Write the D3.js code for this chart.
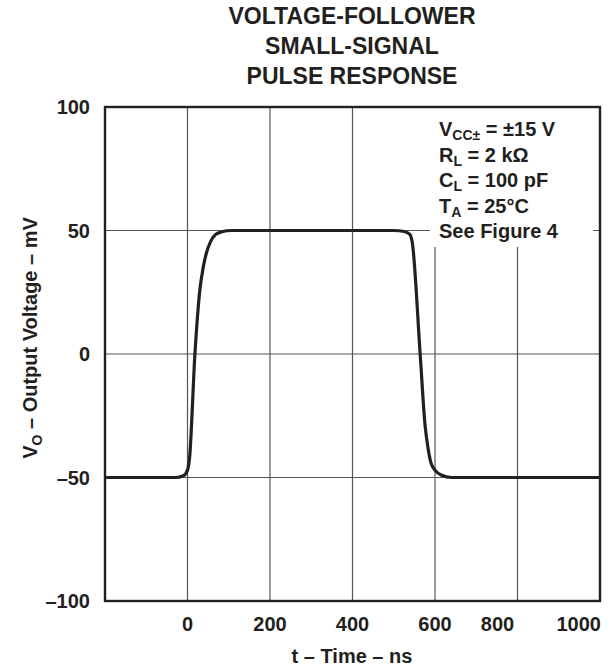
<!DOCTYPE html>
<html><head><meta charset="utf-8">
<script src="https://cdn.jsdelivr.net/npm/d3@7"></script>
<style>
body{margin:0;background:#fff;}
text{font-family:"Liberation Sans",Arial,Helvetica,sans-serif;font-weight:bold;fill:#231f20;}
</style></head>
<body><svg id="c" width="613" height="668"></svg>
<script>
// Data
const timeNs = [-200,-30,-10,0,5,18,30,38,46,56,67,82,95,108,500,525,539,545,564,576,583,590,600,615,640,1000];
const voltageMv = [-50,-50,-49.3,-47,-42,0,26,35,41,45.5,48.2,49.4,49.9,50,50,49.6,48.4,45,0,-29,-38,-44,-47,-49,-50,-50];
const xTicks = [-200,0,200,400,600,800,1000];
const xTickLabels = ["","0","200","400","600","800","1000"];
const yTicks = [-100,-50,0,50,100];
const yTickLabels = ["–100","–50","0","50","100"];
const titleLines = ["VOLTAGE-FOLLOWER","SMALL-SIGNAL","PULSE RESPONSE"];

const svg = d3.select("#c");
const L=105,R=600,T=107,B=601;
const x = d3.scaleLinear().domain([-200,1000]).range([L,R]);
const y = d3.scaleLinear().domain([-100,100]).range([B,T]);
const ink="#231f20";

// grid
svg.append("g").selectAll("line").data(xTicks.slice(1,-1)).join("line")
  .attr("x1",d=>x(d)).attr("x2",d=>x(d)).attr("y1",T).attr("y2",B)
  .attr("stroke","#555").attr("stroke-width",1.2);
svg.append("g").selectAll("line").data(yTicks.slice(1,-1)).join("line")
  .attr("y1",d=>y(d)).attr("y2",d=>y(d)).attr("x1",L).attr("x2",R)
  .attr("stroke","#555").attr("stroke-width",1.2);

// annotation background
svg.append("rect").attr("x",430).attr("y",T+1).attr("width",163).attr("height",139).attr("fill","#fff");

// curve
const line = d3.line().x((d,i)=>x(timeNs[i])).y((d,i)=>y(voltageMv[i])).curve(d3.curveMonotoneX);
svg.append("path").datum(voltageMv).attr("d",line).attr("fill","none")
  .attr("stroke",ink).attr("stroke-width",3.2).attr("stroke-linejoin","round");

// border
svg.append("rect").attr("x",L).attr("y",T).attr("width",R-L).attr("height",B-T)
  .attr("fill","none").attr("stroke",ink).attr("stroke-width",2.4);

// y tick labels
svg.append("g").selectAll("text").data(yTicks).join("text")
  .attr("x",90).attr("y",d=>y(d)+7).attr("text-anchor","end").attr("font-size",20)
  .text((d,i)=>yTickLabels[i]);

// x tick labels
const xOff = {800:-20};
svg.append("g").selectAll("text").data(xTicks).join("text")
  .attr("x",d=> d===1000 ? R+1 : x(d)+(xOff[d]||0))
  .attr("y",631).attr("text-anchor",d=>d===1000?"end":"middle").attr("font-size",20)
  .text((d,i)=>xTickLabels[i]);

// axis titles
svg.append("text").attr("x",352).attr("y",663).attr("text-anchor","middle").attr("font-size",20)
  .text("t – Time – ns");
const yl = svg.append("text").attr("transform","translate(37,338) rotate(-90)")
  .attr("text-anchor","middle").attr("font-size",20);
yl.append("tspan").text("V");
yl.append("tspan").attr("font-size",14).attr("dy",5).text("O");
yl.append("tspan").attr("dy",-5).text(" – Output Voltage – mV");

// title
svg.append("g").selectAll("text").data(titleLines).join("text")
  .attr("x",352).attr("y",(d,i)=>23.5+i*30).attr("text-anchor","middle").attr("font-size",23)
  .text(d=>d);

// annotation
const ann = [
  [["V",0,20],["CC±",4,14],[" = ±15 V",-4,20]],
  [["R",0,20],["L",4,14],[" = 2 kΩ",-4,20]],
  [["C",0,20],["L",4,14],[" = 100 pF",-4,20]],
  [["T",0,20],["A",4,14],[" = 25°C",-4,20]],
  [["See Figure 4",0,20]]
];
ann.forEach((parts,i)=>{
  const t = svg.append("text").attr("x",439).attr("y",136+i*25.5).attr("font-size",20);
  parts.forEach(p=>t.append("tspan").attr("dy",p[1]).attr("font-size",p[2]).text(p[0]));
});
</script></body></html>
